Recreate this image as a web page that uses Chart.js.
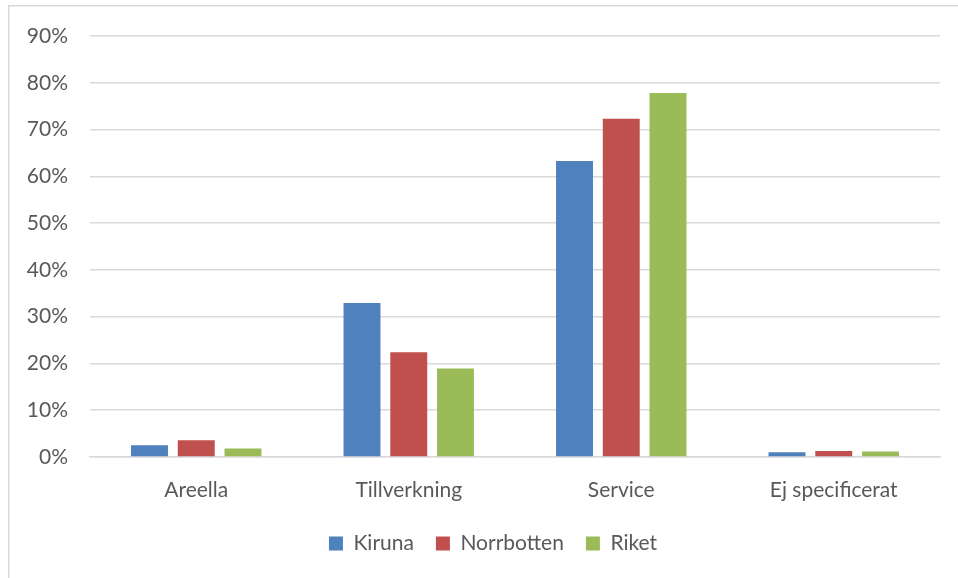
<!DOCTYPE html>
<html>
<head>
<meta charset="utf-8">
<script src="https://cdn.jsdelivr.net/npm/chart.js@4/dist/chart.umd.min.js"></script>
<style>
html,body{margin:0;padding:0;background:#fff;}
#wrap{position:relative;width:958px;height:578px;}
</style>
</head>
<body>
<div id="wrap"><canvas id="c" width="958" height="578"></canvas></div>
<script>
const categories = ["Areella", "Tillverkning", "Service", "Ej specificerat"];
const kiruna = [2.5, 32.9, 63.3, 1.0];
const norrbotten = [3.6, 22.4, 72.3, 1.3];
const riket = [1.8, 18.9, 77.8, 1.2];
const seriesNames = ["Kiruna", "Norrbotten", "Riket"];
const seriesColors = ["#4f81bd", "#c0504d", "#9bbb59"];
const yTicks = [0, 10, 20, 30, 40, 50, 60, 70, 80, 90];

const FONT = "Lato";
const TXT = "#595959";

const frame = {
  id: "frame",
  afterUpdate(chart) {
    const lg = chart.legend;
    if (lg && lg.adjustHitBoxes) {
      lg.left += 46;
      lg.adjustHitBoxes();
    }
  },
  beforeDraw(chart) {
    const ctx = chart.ctx;
    ctx.save();
    ctx.fillStyle = "#d9d9d9";
    ctx.fillRect(8, 5, 950, 1.5);
    ctx.fillRect(8, 5, 1.5, 573);
    ctx.restore();
  }
};

new Chart(document.getElementById("c"), {
  type: "bar",
  data: {
    labels: categories,
    datasets: [kiruna, norrbotten, riket].map((d, i) => ({
      label: seriesNames[i],
      data: d,
      backgroundColor: seriesColors[i],
      borderWidth: 0,
      categoryPercentage: 0.66,
      barPercentage: 0.79
    }))
  },
  options: {
    responsive: false,
    animation: false,
    layout: { padding: { top: 36, right: 18, bottom: 14, left: 0 } },
    plugins: {
      legend: {
        position: "bottom",
        labels: {
          font: { family: FONT, size: 21 },
          color: TXT,
          boxWidth: 14,
          boxHeight: 14,
          padding: 22
        }
      },
      tooltip: { enabled: false }
    },
    scales: {
      x: {
        grid: { display: false, drawTicks: false },
        border: { display: true, color: "#d9d9d9", width: 1.5 },
        ticks: { font: { family: FONT, size: 21 }, color: TXT, padding: 21 },
        afterFit(scale) { scale.height = 54; }
      },
      y: {
        min: 0,
        max: 90,
        afterBuildTicks(scale) { scale.ticks = yTicks.map(v => ({ value: v })); },
        grid: { color: "#d9d9d9", lineWidth: 1.5, drawTicks: false },
        border: { display: false },
        ticks: {
          font: { family: FONT, size: 21 },
          color: TXT,
          padding: 22,
          callback: v => v + "%"
        },
        afterFit(scale) { scale.width = 90; }
      }
    }
  },
  plugins: [frame]
});
</script>
</body>
</html>
